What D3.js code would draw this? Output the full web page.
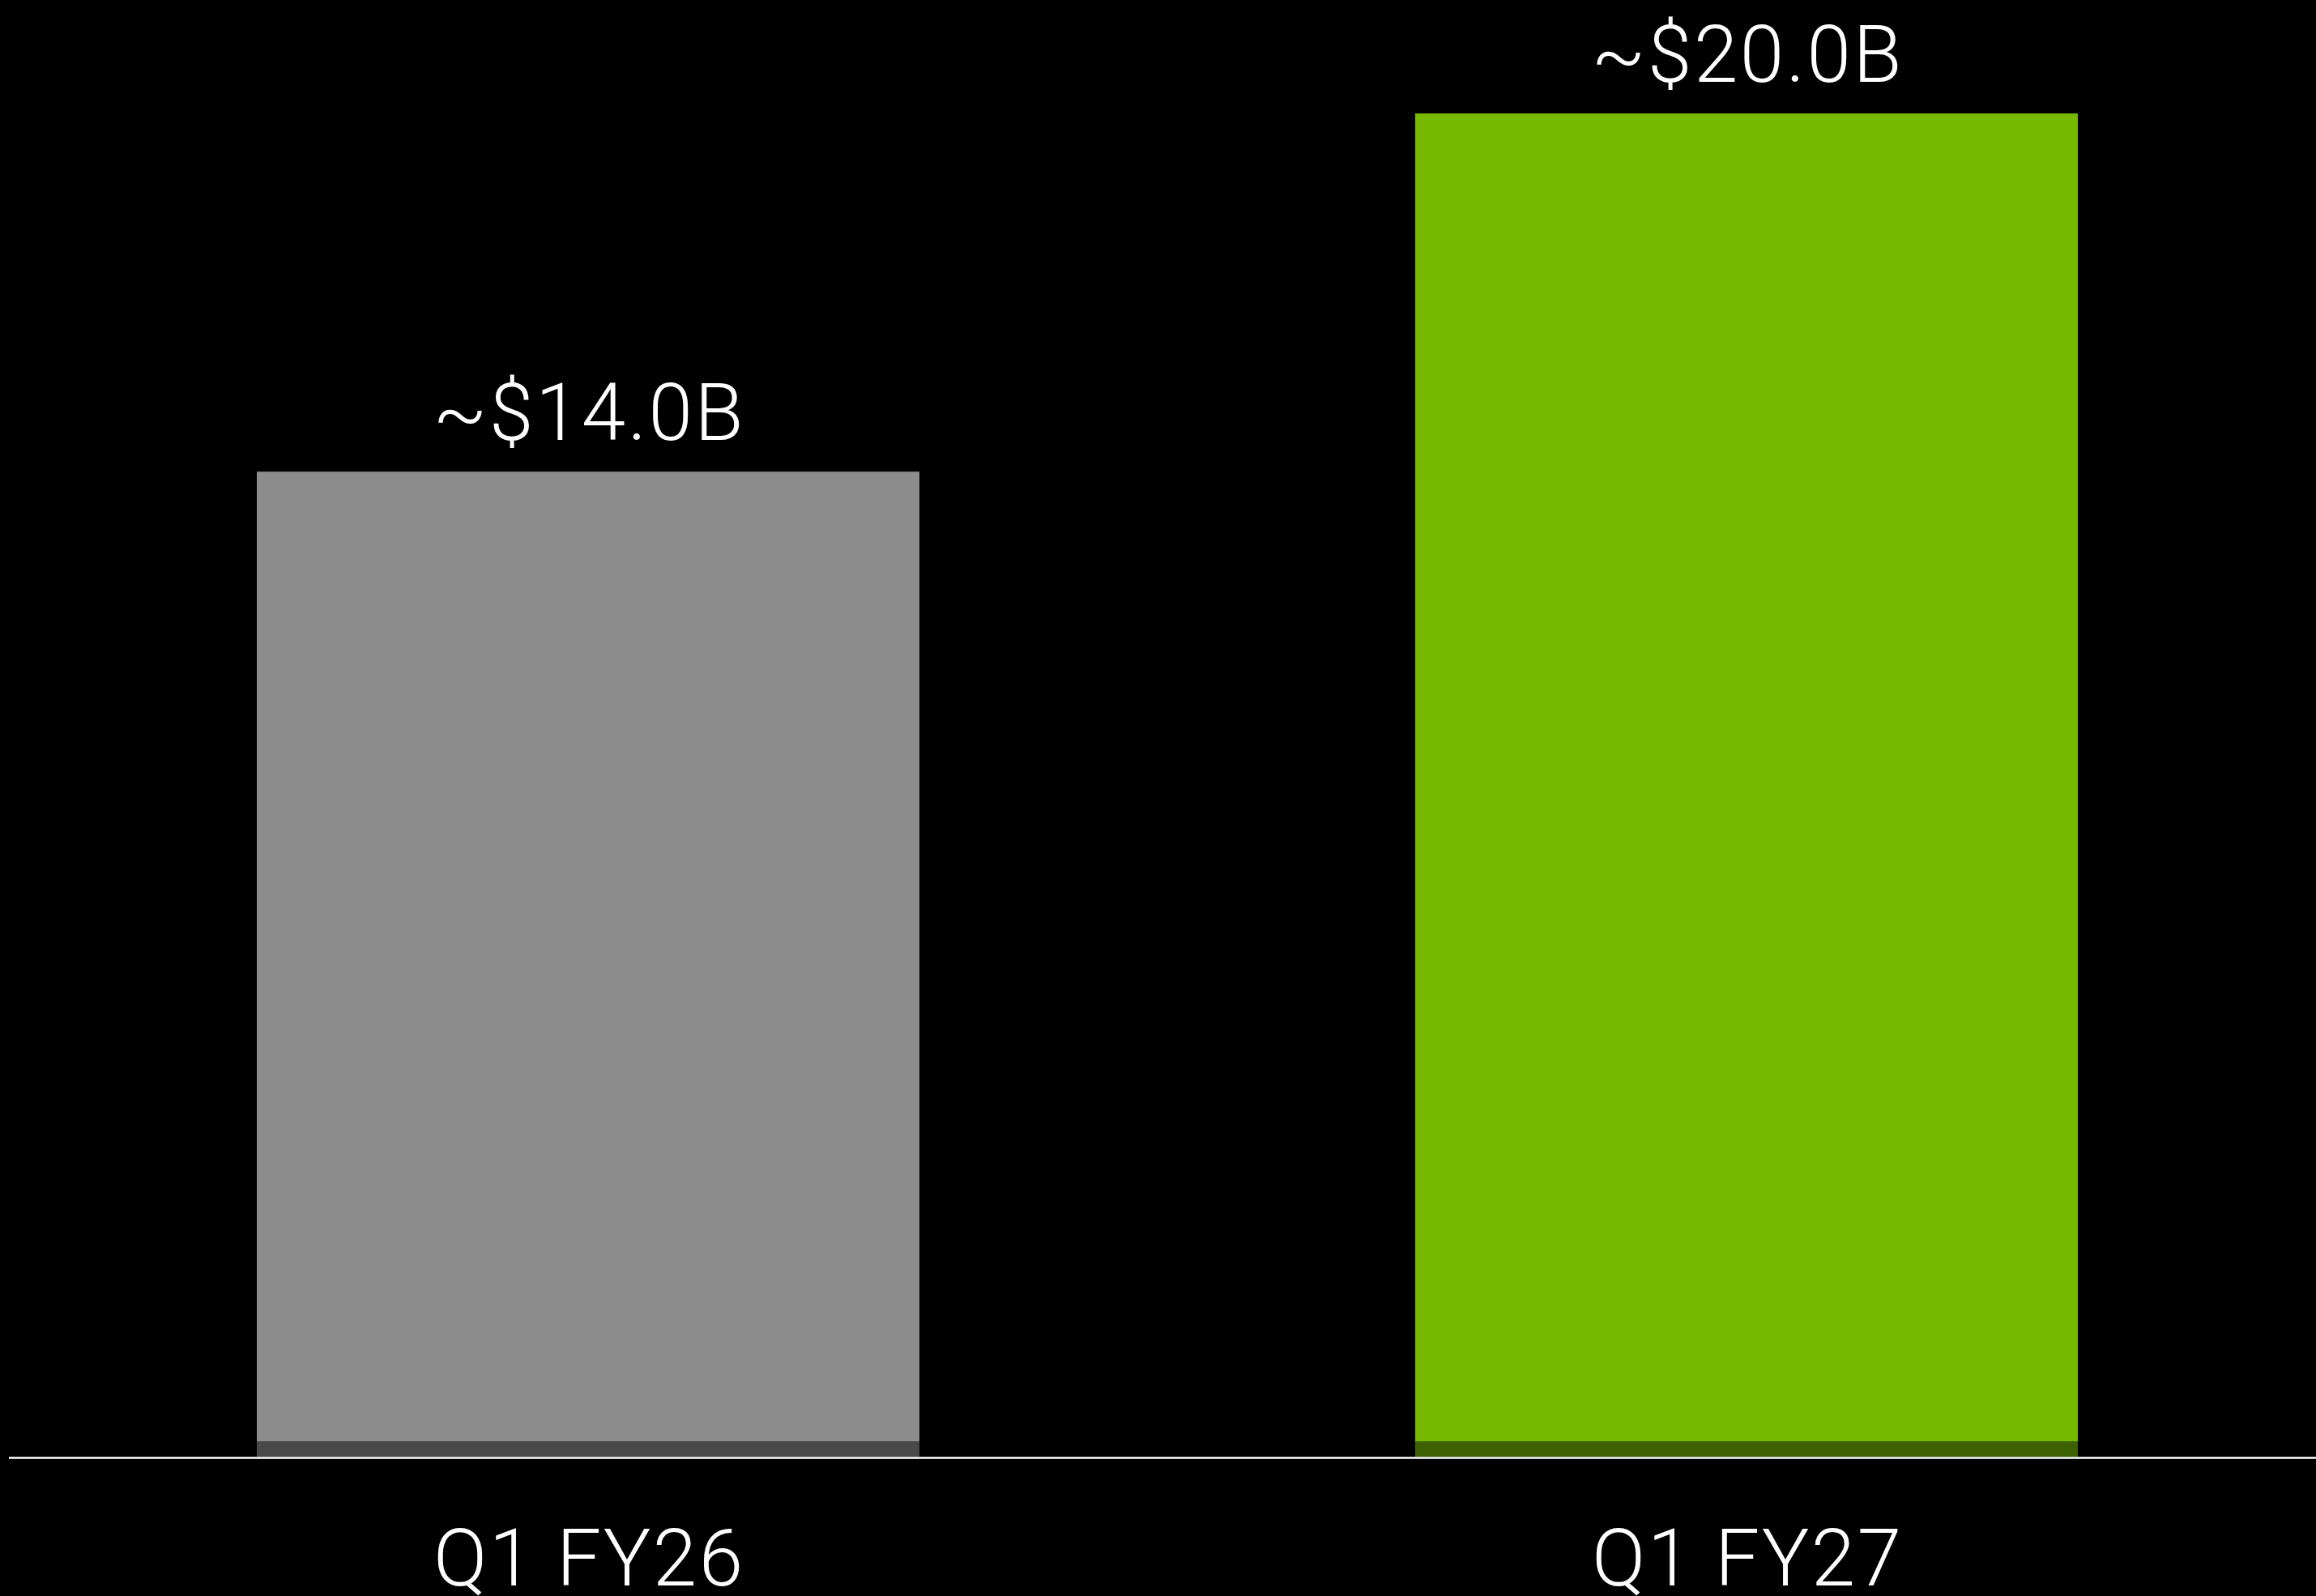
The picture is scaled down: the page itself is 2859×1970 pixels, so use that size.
<!DOCTYPE html>
<html>
<head>
<meta charset="utf-8">
<script src="https://cdn.jsdelivr.net/npm/d3@7"></script>
<style>
  html, body { margin: 0; padding: 0; background: #000; }
  svg { display: block; }
  text { font-family: Roboto, "Noto Sans", sans-serif; font-weight: 300; fill: #fff; letter-spacing: 2.5px; }
</style>
</head>
<body>
<svg id="chart"></svg>
<script>
// Quarterly revenue comparison
const categories = ["Q1 FY26", "Q1 FY27"];
const values = [14.0, 20.0];
const valueLabels = ["~$14.0B", "~$20.0B"];
const barColors = ["#8c8c8c", "#76b900"];

const W = 2859, H = 1970;
const baseY = 1798;

const svg = d3.select("#chart").attr("width", W).attr("height", H);
svg.append("rect").attr("width", W).attr("height", H).attr("fill", "#000");

const x = d3.scaleBand()
  .domain(categories)
  .range([11, 2871])
  .paddingInner(0.428)
  .paddingOuter(0.214);

const y = d3.scaleLinear()
  .domain([-2.5, 20])
  .range([baseY, 140]);

const rows = categories.map((c, i) => ({ cat: c, value: values[i], label: valueLabels[i], color: barColors[i] }));

// bars
svg.selectAll("rect.bar")
  .data(rows)
  .join("rect")
  .attr("class", "bar")
  .attr("x", d => x(d.cat))
  .attr("y", d => y(d.value))
  .attr("width", x.bandwidth())
  .attr("height", d => baseY - y(d.value))
  .attr("fill", d => d.color);

// darker foot at the base of each bar
svg.selectAll("rect.foot")
  .data(rows)
  .join("rect")
  .attr("class", "foot")
  .attr("x", d => x(d.cat))
  .attr("y", baseY - 19)
  .attr("width", x.bandwidth())
  .attr("height", 19)
  .attr("fill", "#000")
  .attr("fill-opacity", 0.48);

// baseline
svg.append("line")
  .attr("x1", 11).attr("x2", W)
  .attr("y1", baseY + 1.5).attr("y2", baseY + 1.5)
  .attr("stroke", "#ffffff")
  .attr("stroke-width", 2.5);

// value labels
svg.selectAll("text.value")
  .data(rows)
  .join("text")
  .attr("class", "value")
  .attr("x", d => x(d.cat) + x.bandwidth() / 2 + 1.25)
  .attr("y", d => y(d.value) - 39)
  .attr("text-anchor", "middle")
  .attr("font-size", 98)
  .text(d => d.label);

// category labels
const xAxis = d3.axisBottom(x).tickSize(0).tickPadding(0);
const gx = svg.append("g")
  .attr("transform", `translate(0,${baseY})`)
  .call(xAxis);
gx.select(".domain").remove();
gx.selectAll(".tick text")
  .attr("dy", null)
  .attr("x", 1.25)
  .attr("y", 159)
  .attr("font-size", 98)
  .attr("font-family", null)
  .style("fill", "#fff");
</script>
</body>
</html>
